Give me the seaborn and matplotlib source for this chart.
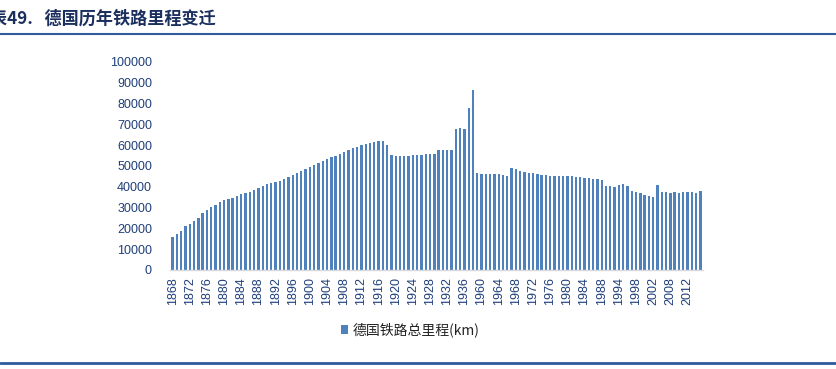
import matplotlib
matplotlib.use("Agg")
import matplotlib.pyplot as plt
from matplotlib.lines import Line2D
from matplotlib.patches import Patch
import seaborn as sns
import pandas as pd

# ---- data ----
years = (list(range(1868, 1939)) + [1959] + list(range(1960, 1992))
         + list(range(1994, 2003)) + [2003, 2004, 2005] + [2008]
         + [2009, 2010, 2011] + [2012] + [2013, 2014, 2015])

km = [16000, 17100, 18600, 21150, 22100, 23560, 25000, 27560, 28850, 30300,
      31100, 32850, 33500, 34000, 34600, 35600, 36400, 36900, 37500, 38600,
      39600, 40400, 41200, 41700, 42300, 42950, 43750, 44700, 45700, 46600,
      47750, 48550, 49350, 50500, 51400, 52400, 53400, 54200, 55000, 55800,
      56700, 57700, 58500, 59300, 59900, 60600, 61200, 61500, 61900,
      62000, 59900, 55300, 55000, 55000, 54800, 54800, 55100, 55100, 55300,
      55600, 55800, 55800, 57900, 57900, 57900, 57900, 67800, 68100, 67600,
      77900, 86500, 46500, 46300, 46300, 46300, 46000, 46000, 45700, 45400,
      49200, 48600, 47600, 47000, 46500, 46500, 46000, 45500, 45500, 45400,
      45200, 45000, 45000, 45200, 45000, 44900, 44600, 44400, 44100, 43800,
      43800, 43400, 40500, 40200, 39700, 40700, 41200, 40200, 37800, 37500,
      36900, 35900, 35400, 35300, 41000, 37700, 37300, 37200, 37300, 37200,
      37300, 37300, 37300, 37200, 38000]

title = "表49.   德国历年铁路里程变迁"
series_name = "德国铁路总里程(km)"
yticks = [0, 10000, 20000, 30000, 40000, 50000, 60000, 70000, 80000, 90000, 100000]

df = pd.DataFrame({"year": [str(y) for y in years], "km": km})

sns.set_theme(style="white")
plt.rcParams['font.family'] = ['Noto Sans CJK SC', 'DejaVu Sans']

W, H = 837, 369
fig = plt.figure(figsize=(W / 100, H / 100), dpi=100)
ax = fig.add_axes([170 / W, 1 - 270 / H, (703 - 170) / W, (270 - 62) / H])

bar_color = "#4F81BD"
sns.barplot(data=df, x="year", y="km", order=df["year"].tolist(), color=bar_color,
            width=0.55, saturation=1, ax=ax, linewidth=0, errorbar=None)

ax.set_ylim(0, 100000)
ax.set_xlim(-0.6, len(years) - 0.4)
ax.set_yticks(yticks)
ax.set_yticklabels([str(v) for v in yticks], fontsize=9, color="#1F3F7A",
                   family=['Liberation Sans', 'DejaVu Sans'])
pos = list(range(0, len(years), 4))
ax.set_xticks(pos)
ax.set_xticklabels([df["year"][i] for i in pos], rotation=90, fontsize=9,
                   color="#1F3F7A", family=['Liberation Sans', 'DejaVu Sans'])
ax.tick_params(axis="y", length=0, pad=13)
ax.tick_params(axis="x", length=0, pad=5)
ax.set_xlabel("")
ax.set_ylabel("")
for s in ["top", "right", "left"]:
    ax.spines[s].set_visible(False)
ax.spines["bottom"].set_color("#D9D9D9")
ax.spines["bottom"].set_linewidth(1.0)
ax.grid(False)

# title
fig.text(-10 / W, 1 - 19 / H, title, fontsize=12.3, fontweight="bold",
         color="#1B2F5E", ha="left", va="center")
# rules
fig.add_artist(Line2D([0, 1], [1 - 34 / H, 1 - 34 / H], color="#2E5C9A", lw=1.5))
fig.add_artist(Line2D([0, 1], [1 - 363 / H, 1 - 363 / H], color="#2E5C9A", lw=2.0))

# legend
handle = Patch(facecolor=bar_color, edgecolor="none")
fig.legend([handle], [series_name], loc="center", bbox_to_anchor=(410 / W, 1 - 330 / H),
           frameon=False, fontsize=10, handlelength=0.55, handleheight=0.55,
           handletextpad=0.3, labelcolor="#222222")

fig.savefig("out.png", dpi=100)
